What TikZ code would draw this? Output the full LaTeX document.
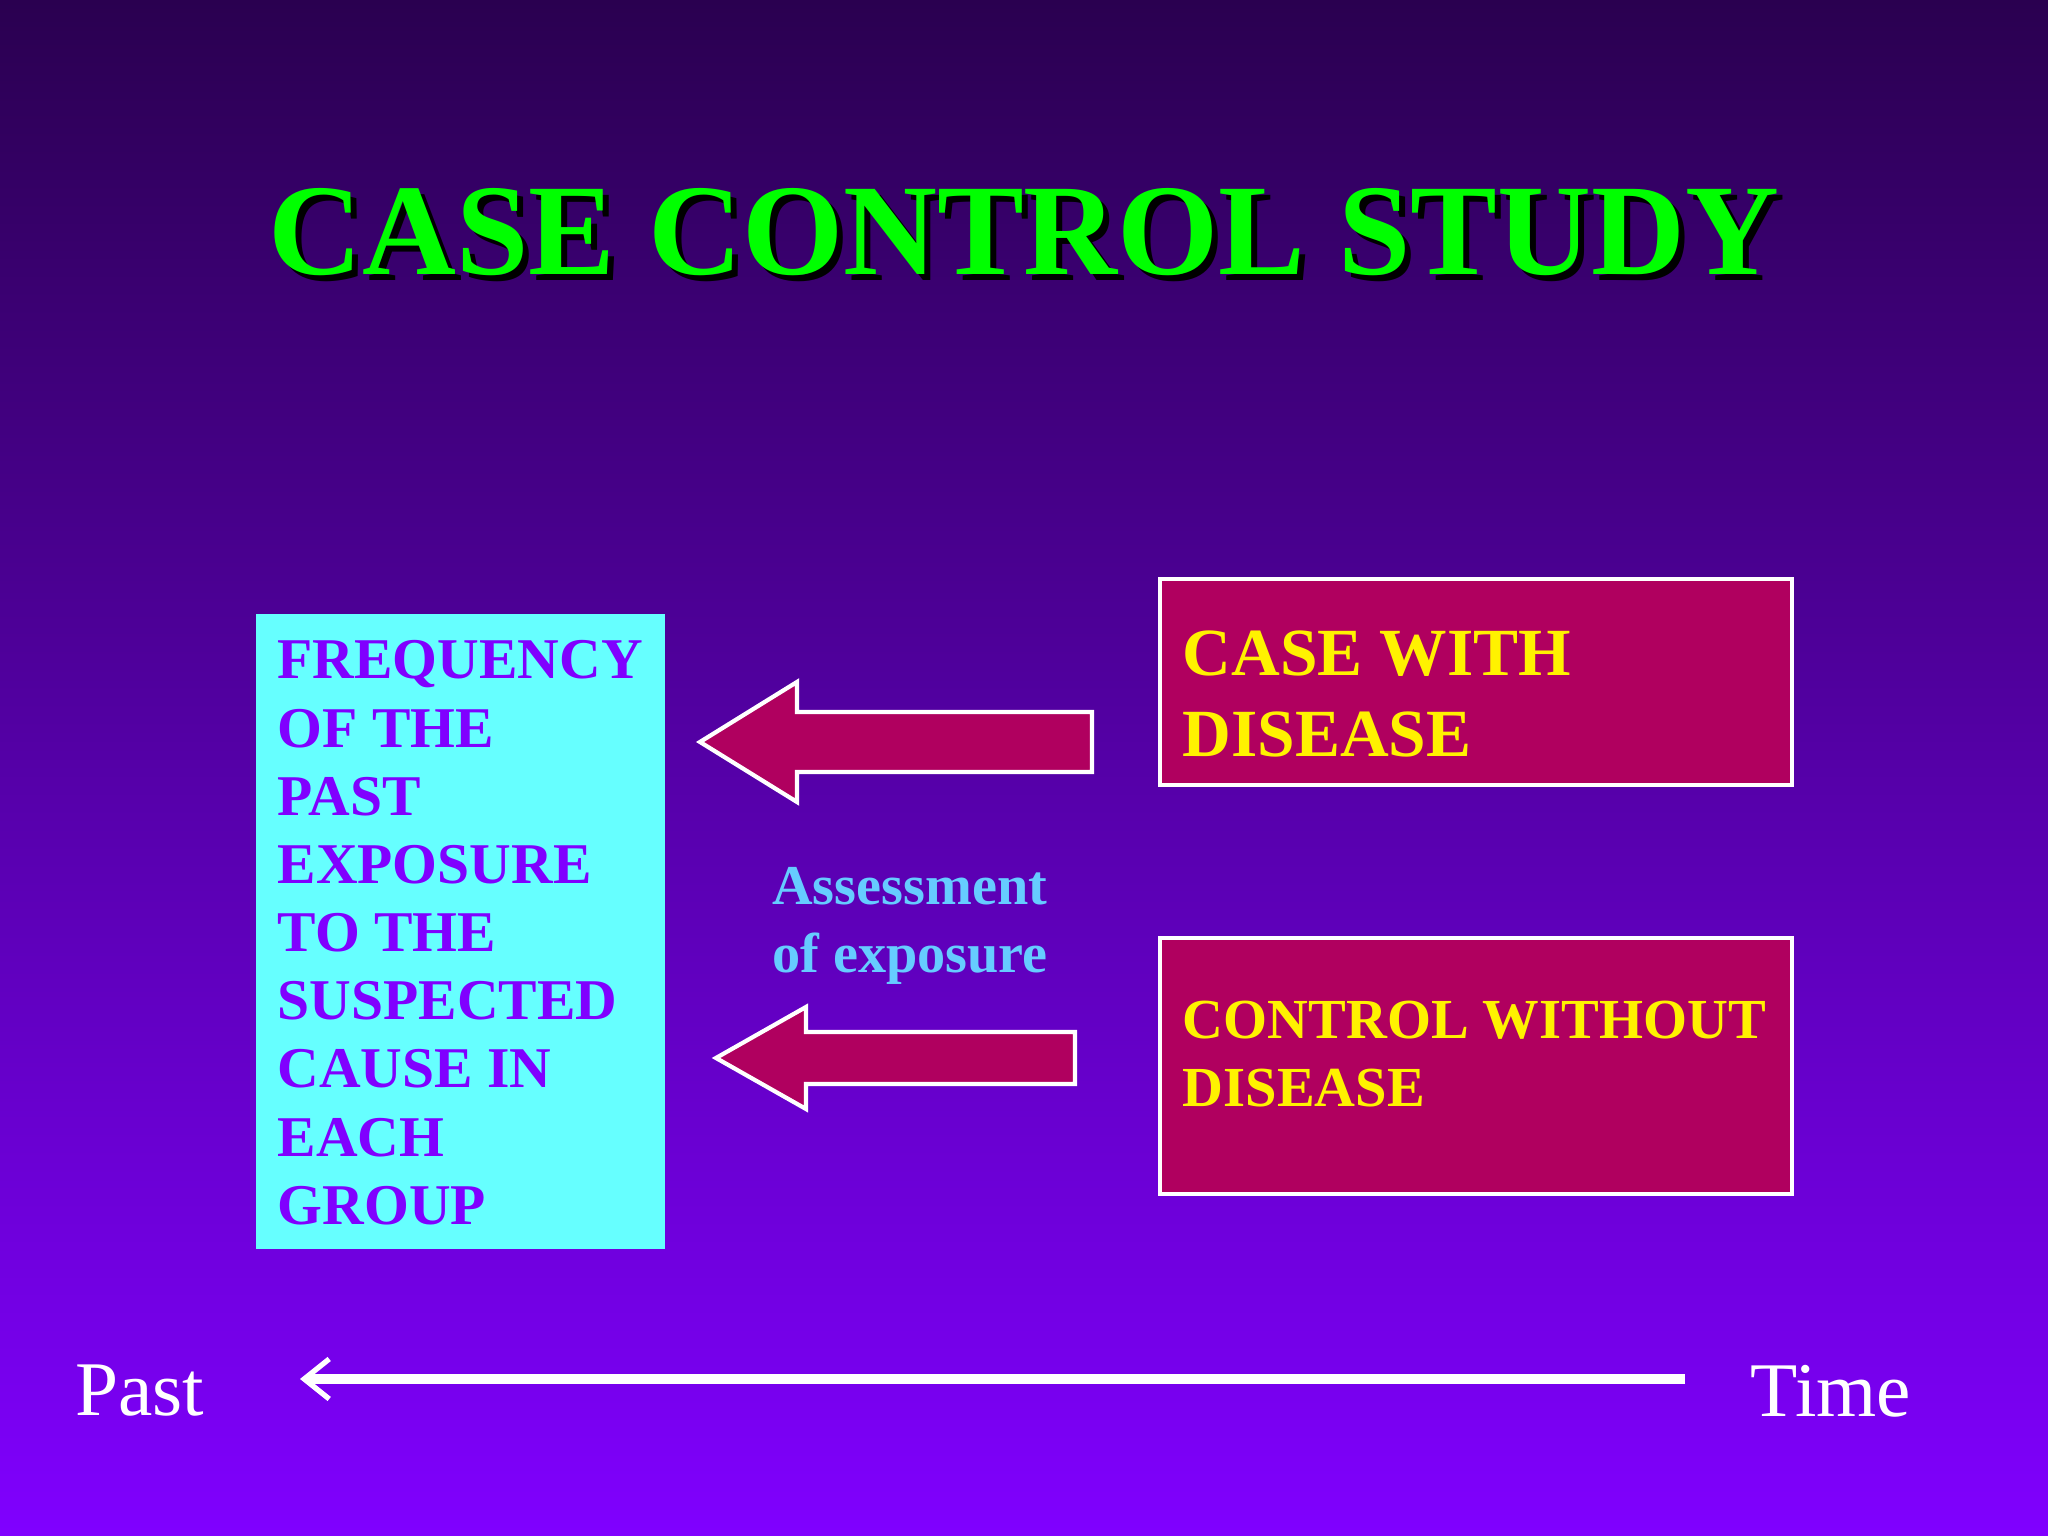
\documentclass[tikz,border=0pt]{standalone}
\usepackage{fontspec}
\usetikzlibrary{arrows.meta}
\setmainfont{Liberation Serif}
\definecolor{bgtop}{HTML}{2A0050}
\definecolor{bgbot}{HTML}{8000FF}
\definecolor{mag}{HTML}{B0005F}
\definecolor{cyanbox}{HTML}{66FFFF}
\definecolor{purp}{HTML}{8000FF}
\definecolor{ttlgreen}{HTML}{00FF00}
\definecolor{assess}{HTML}{66CCFF}
\tikzset{
 magbox/.style={draw=white,line width=1.2pt,fill=mag},
 boxtxt/.style={anchor=north west,inner sep=0pt,align=left,font=\bfseries},
 bigarrow/.style={draw=white,line width=1.2pt,fill=mag}
}
\begin{document}
\begin{tikzpicture}
\useasboundingbox (0,0) rectangle (20.48,15.36);
\shade[top color=bgtop,bottom color=bgbot] (0,0) rectangle (20.48,15.36);
% title
\node[text=black,font=\bfseries\fontsize{37}{42}\selectfont] at (10.30,12.98) {CASE CONTROL STUDY};
\node (title)[text=ttlgreen,font=\bfseries\fontsize{37}{42}\selectfont] at (10.24,13.04) {CASE CONTROL STUDY};
% cyan box
\fill[cyanbox] (2.56,2.87) rectangle (6.65,9.22);
\node (freq)[boxtxt,text=purp,font=\bfseries\fontsize{16.4}{19.4}\selectfont] at (2.77,8.96)
 {FREQUENCY\\OF THE\\PAST\\EXPOSURE\\TO THE\\SUSPECTED\\CAUSE IN\\EACH\\GROUP};
% case boxes
\draw[magbox] (11.60,7.51) rectangle (17.92,9.57);
\node (case)[boxtxt,text=yellow,font=\bfseries\fontsize{19.2}{23}\selectfont] at (11.82,9.06) {CASE WITH\\DISEASE};
\draw[magbox] (11.60,3.42) rectangle (17.92,5.98);
\node (ctrl)[boxtxt,text=yellow,font=\bfseries\fontsize{16.1}{19.4}\selectfont] at (11.82,5.36) {CONTROL WITHOUT\\DISEASE};
% arrows
\draw[bigarrow] (7.00,7.94) -- (7.97,8.54) -- (7.97,8.24) -- (10.92,8.24) -- (10.92,7.64) -- (7.97,7.64) -- (7.97,7.34) -- cycle;
\draw[bigarrow] (7.16,4.78) -- (8.06,5.29) -- (8.06,5.04) -- (10.75,5.04) -- (10.75,4.52) -- (8.06,4.52) -- (8.06,4.27) -- cycle;
\node (assess)[text=assess,align=left,inner sep=0pt,font=\bfseries\fontsize{16}{19.6}\selectfont] at (9.10,6.10) {Assessment\\of exposure};
% timeline
\node (past)[text=white,font=\fontsize{22}{26}\selectfont] at (1.40,1.45) {Past};
\node (time)[text=white,font=\fontsize{22}{26}\selectfont] at (18.31,1.45) {Time};
\coordinate (tl) at (3.00,1.57);
\coordinate (tr) at (16.85,1.57);
\draw[white,line width=3pt,-{Straight Barb[length=2.5mm,width=4mm,line width=1.5pt]}] (tr) -- (tl);
\end{tikzpicture}
\end{document}
